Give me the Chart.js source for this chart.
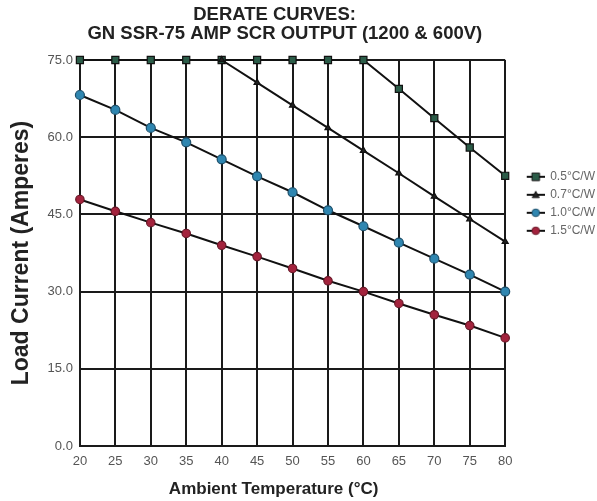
<!DOCTYPE html>
<html>
<head>
<meta charset="utf-8">
<script src="https://cdn.jsdelivr.net/npm/chart.js@4.4.1/dist/chart.umd.min.js"></script>
<style>
html,body{margin:0;padding:0;background:#fff;}
#wrap{position:relative;width:597px;height:501px;}
</style>
</head>
<body>
<div id="wrap"><canvas id="c" width="597" height="501"></canvas></div>
<script>
const temperatures = [20, 25, 30, 35, 40, 45, 50, 55, 60, 65, 70, 75, 80];
const seriesLabels = ['0.5\u00B0C/W', '0.7\u00B0C/W', '1.0\u00B0C/W', '1.5\u00B0C/W'];
const current05 = [75, 75, 75, 75, 75, 75, 75, 75, 75, 69.4, 63.7, 58.0, 52.5];
const current07 = [null, null, null, null, 75, 70.6, 66.2, 61.8, 57.4, 53.0, 48.5, 44.1, 39.7];
const current10 = [68.2, 65.3, 61.8, 59.0, 55.7, 52.4, 49.3, 45.8, 42.7, 39.5, 36.4, 33.3, 30.0];
const current15 = [47.9, 45.6, 43.4, 41.3, 39.0, 36.8, 34.5, 32.1, 30.0, 27.7, 25.5, 23.4, 21.0];
const yTicks = [0, 15, 30, 45, 60, 75];

const styles = [
  {shape:'rect', fill:'#2b5c48', border:'#111', r:5},
  {shape:'triangle', fill:'#222', border:'#111', r:3.5},
  {shape:'circle', fill:'#2f86b0', border:'#1d4f6a', r:4.5},
  {shape:'circle', fill:'#a3233d', border:'#6a1828', r:4.2}
];

function toPts(arr){ return temperatures.map((t,i)=>({x:t, y:arr[i]})); }

function legendIcon(st){
  const c = document.createElement('canvas');
  c.width = 34; c.height = 10;
  const g = c.getContext('2d');
  g.strokeStyle = '#111'; g.lineWidth = 2;
  g.beginPath(); g.moveTo(16,5); g.lineTo(34,5); g.stroke();
  g.fillStyle = st.fill; g.strokeStyle = st.border; g.lineWidth = 1;
  const r = Math.min(st.r, 3.8);
  const cx = 25;
  g.beginPath();
  if (st.shape==='rect'){ g.rect(cx-r,5-r,2*r,2*r); }
  else if (st.shape==='triangle'){ g.moveTo(cx,5-r); g.lineTo(cx+r,5+r*0.8); g.lineTo(cx-r,5+r*0.8); g.closePath(); }
  else { g.arc(cx,5,r,0,Math.PI*2); }
  g.fill(); g.stroke();
  return c;
}

const seriesData = [current05, current07, current10, current15];
const datasets = seriesData.map((arr,i)=>({
  label: seriesLabels[i],
  data: toPts(arr),
  borderColor: '#111',
  borderWidth: 2,
  pointStyle: styles[i].shape,
  pointRadius: styles[i].r,
  pointBackgroundColor: styles[i].fill,
  pointBorderColor: styles[i].border,
  pointBorderWidth: 1.2,
  spanGaps: false,
  tension: 0,
  clip: false,
  order: 4 - i
}));

const tickFont = {family:"'Liberation Sans Narrow', 'Liberation Sans', Arial", size:13};

new Chart(document.getElementById('c'), {
  type: 'line',
  data: {datasets},
  options: {
    responsive: false,
    animation: false,
    layout: {padding: {left: 8, right: -8, top: 4, bottom: 1}},
    plugins: {
      title: {
        display: true,
        fullSize: false,
        text: ['DERATE CURVES:       ', 'GN SSR-75 AMP SCR OUTPUT (1200 & 600V)   '],
        color: '#222',
        font: {family: "'Liberation Sans', Arial", size: 18.5, weight: 'bold', lineHeight: 1.0},
        padding: {top: 2, bottom: 17}
      },
      legend: {
        position: 'right',
        align: 'start',
        title: {display: true, text: ' ', padding: {top: 156, bottom: 0}, font:{size:4}},
        labels: {
          color: '#666',
          font: {family: "'Liberation Sans', Arial", size: 12},
          boxWidth: 33, boxHeight: 10, padding: 6,
          usePointStyle: true, pointStyleWidth: 33,
          generateLabels: (chart) => chart.data.datasets.map((ds,i)=>({
            text: ds.label, pointStyle: legendIcon(styles[i]), fillStyle:'#fff', strokeStyle:'#fff', lineWidth:0, datasetIndex:i, fontColor:'#666'
          }))
        }
      },
      tooltip: {enabled: false}
    },
    scales: {
      x: {
        type: 'linear', min: 20, max: 80,
        ticks: {stepSize: 5, color: '#555', font: tickFont, padding: 8},
        grid: {color: '#1a1a1a', lineWidth: 2, drawTicks: false},
        border: {color: '#1a1a1a', width: 2},
        title: {display: true, text: 'Ambient Temperature (\u00B0C)        ', color: '#222',
          font: {family: "'Liberation Sans', Arial", size: 17, weight: 'bold'}, padding: {top: 2, bottom: 0}}
      },
      y: {
        min: 0, max: 75,
        afterBuildTicks: (axis) => { axis.ticks = yTicks.map(v=>({value:v})); },
        ticks: {color: '#555', font: tickFont, padding: 7, callback: v => Number(v).toFixed(1)},
        grid: {color: '#1a1a1a', lineWidth: 2, drawTicks: false},
        border: {color: '#1a1a1a', width: 2},
        title: {display: true, text: 'Load Current (Amperes)', color: '#222',
          font: {family: "'Liberation Sans', Arial", size: 23, weight: 'bold'}, padding: {top: 0, bottom: 5}}
      }
    }
  }
});
</script>
</body>
</html>
